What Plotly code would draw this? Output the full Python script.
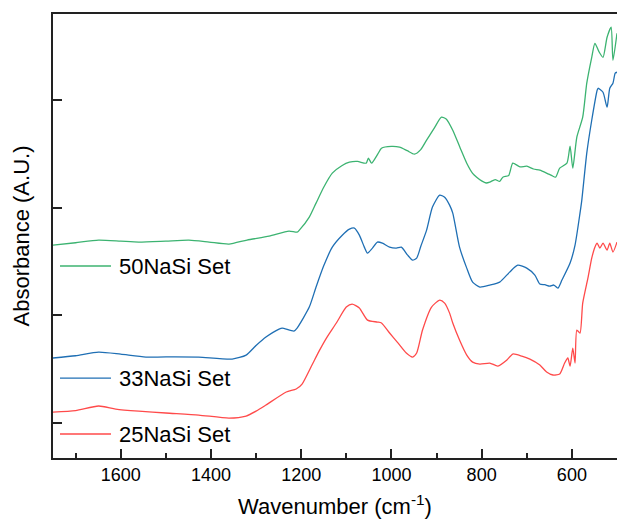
import plotly.graph_objects as go

# Wavenumber (cm-1) and absorbance (a.u., offset stack)
wn_50 = [1750, 1700, 1649, 1600, 1560, 1500, 1449, 1404, 1360, 1320, 1271, 1227, 1209, 1204, 1182, 1167, 1150, 1131,
         1110, 1093, 1075, 1056, 1051, 1044, 1030, 1022, 1000, 982, 965, 949, 935, 922, 905, 889, 878, 864, 848, 833, 820,
         811, 800, 790, 782, 770, 760, 753, 740, 731, 715, 700, 685, 671, 655, 645, 636, 627, 611, 604,
         598, 589, 576, 567, 556, 549, 540, 531, 522, 513, 509, 500]
ab_50 = [2.653, 2.675, 2.699, 2.690, 2.681, 2.690, 2.699, 2.681, 2.662, 2.700, 2.736, 2.783, 2.773, 2.792, 2.913, 3.043, 3.190, 3.321,
         3.390, 3.423, 3.430, 3.414, 3.461, 3.414, 3.500, 3.553, 3.570, 3.563, 3.530, 3.498, 3.540, 3.628, 3.740, 3.841, 3.823, 3.720, 3.560, 3.414, 3.320,
         3.284, 3.250, 3.230, 3.238, 3.262, 3.245, 3.284, 3.300, 3.414, 3.380, 3.386, 3.360, 3.349, 3.320, 3.300, 3.284, 3.368, 3.414, 3.572,
         3.368, 3.656, 3.841, 4.157, 4.398, 4.528, 4.450, 4.398, 4.584, 4.677, 4.370, 4.621]

wn_33 = [1750, 1700, 1649, 1600, 1544, 1480, 1427, 1353, 1322, 1300, 1278, 1249, 1242, 1216, 1209, 1182, 1167, 1150, 1131,
         1110, 1093, 1082, 1071, 1060, 1053, 1042, 1031, 1020, 1004, 989, 978, 964, 953, 944, 935, 922,
         909, 893, 882, 871, 864, 849, 833, 820, 804, 782, 760, 738, 720, 700, 682, 671, 660,
         649, 640, 631, 622, 604, 593, 582, 578, 567, 556, 544, 542, 531, 522, 516, 509, 504, 500]
ab_33 = [1.604, 1.625, 1.659, 1.640, 1.613, 1.615, 1.613, 1.594, 1.631, 1.720, 1.799, 1.873, 1.882, 1.854, 1.882, 2.077, 2.263, 2.460, 2.634,
         2.740, 2.801, 2.811, 2.746, 2.634, 2.578, 2.625, 2.681, 2.671, 2.634, 2.625, 2.634, 2.560, 2.513, 2.532, 2.640, 2.792,
         3.006, 3.117, 3.098, 3.024, 2.950, 2.634, 2.439, 2.309, 2.263, 2.281, 2.309, 2.402, 2.467, 2.439, 2.374, 2.291, 2.285,
         2.272, 2.282, 2.253, 2.328, 2.486, 2.653, 2.950, 3.071, 3.507, 3.813, 4.092, 4.110, 4.073, 3.934, 4.110, 4.157, 4.250, 4.259]

wn_25 = [1750, 1700, 1649, 1611, 1560, 1500, 1427, 1360, 1322, 1300, 1278, 1233, 1211, 1198, 1176, 1160, 1144, 1122,
         1100, 1087, 1071, 1053, 1031, 1022, 1004, 987, 967, 953, 944, 931, 911, 893, 882, 871,
         864, 849, 833, 820, 804, 782, 764, 744, 731, 711, 693, 671, 656, 642, 627, 616, 609,
         604, 598, 593, 589, 582, 576, 564, 556, 549, 544, 538, 531, 522, 516, 509, 500]
ab_25 = [1.102, 1.115, 1.158, 1.130, 1.110, 1.093, 1.074, 1.046, 1.065, 1.110, 1.167, 1.288, 1.316, 1.362, 1.539, 1.670, 1.789, 1.929,
         2.077, 2.105, 2.068, 1.956, 1.938, 1.929, 1.836, 1.752, 1.650, 1.613, 1.650, 1.864, 2.077, 2.142, 2.114, 2.021,
         1.929, 1.771, 1.631, 1.566, 1.548, 1.557, 1.529, 1.585, 1.641, 1.622, 1.594, 1.539, 1.474, 1.446, 1.455, 1.557, 1.604,
         1.529, 1.696, 1.557, 1.864, 1.836, 2.114, 2.356, 2.532, 2.634, 2.671, 2.625, 2.671, 2.606, 2.671, 2.588, 2.681]

names = ["50NaSi Set", "33NaSi Set", "25NaSi Set"]
colors = ["#3CB371", "#1F6FB4", "#FF4A4A"]
label_y = [0.4324, 0.180, 0.054]

x_ticks = [1600, 1400, 1200, 1000, 800, 600]
x_tick_text = ["1600", "1400", "1200", "1000", "800", "600"]
y_ticks = [1, 2, 3, 4]

FONT = "Liberation Sans, Arial, sans-serif"

fig = go.Figure()
for wn, ab, name, col in zip([wn_50, wn_33, wn_25], [ab_50, ab_33, ab_25], names, colors):
    fig.add_trace(go.Scatter(x=wn, y=ab, mode="lines", name=name,
                             line=dict(color=col, width=1.3, shape="spline", smoothing=0.6),
                             showlegend=False))

for name, col, ly in zip(names, colors, label_y):
    fig.add_shape(type="line", xref="paper", yref="paper", x0=0.0124, x1=0.1028,
                  y0=ly, y1=ly, line=dict(color=col, width=1.3))
    fig.add_annotation(xref="paper", yref="paper", x=0.1135, y=ly, text=name,
                       showarrow=False, xanchor="left", yanchor="middle",
                       font=dict(family=FONT, size=22, color="black"))

fig.update_layout(
    width=617, height=522,
    margin=dict(l=53, r=0, t=14, b=64),
    plot_bgcolor="white", paper_bgcolor="white",
    font=dict(family=FONT, color="black"),
)
fig.update_xaxes(range=[1750, 500], tickvals=x_ticks, ticktext=x_tick_text,
                 ticks="inside", ticklen=9, tickwidth=1.5, tickcolor="#222",
                 minor=dict(dtick=100, tick0=500, ticks="inside", ticklen=5, tickwidth=1.5, tickcolor="#222"),
                 showline=True, linecolor="#222", linewidth=1.6, mirror=True,
                 showgrid=False, zeroline=False,
                 tickfont=dict(size=18, family=FONT),
                 title=dict(text="Wavenumber (cm<sup>-1</sup>)", font=dict(size=22, family=FONT), standoff=14))
fig.update_yaxes(range=[0.675, 4.8], tickvals=y_ticks, showticklabels=False,
                 ticks="inside", ticklen=9, tickwidth=1.5, tickcolor="#222",
                 showline=True, linecolor="#222", linewidth=1.6, mirror=False,
                 showgrid=False, zeroline=False,
                 title=dict(text="Absorbance (A.U.)", font=dict(size=22, family=FONT), standoff=16))

fig.write_html("out.html")
